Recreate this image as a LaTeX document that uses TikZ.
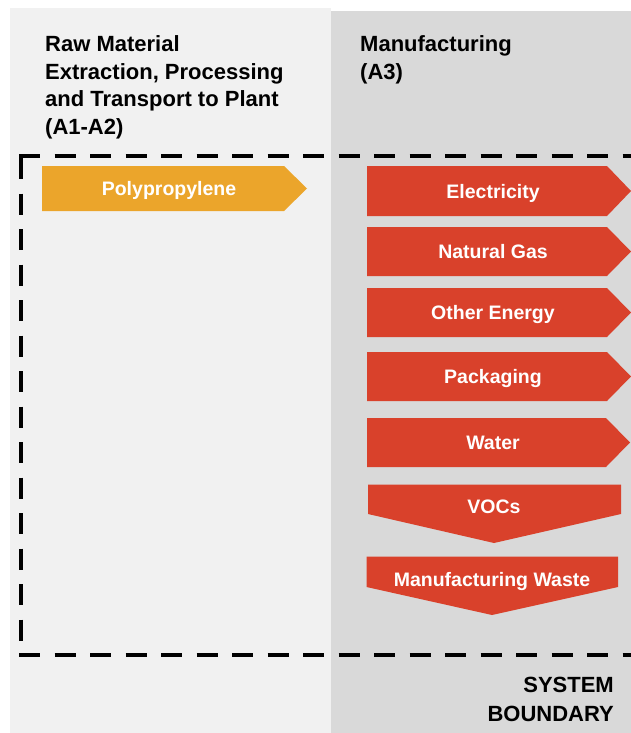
\documentclass[tikz,border=0pt]{standalone}
\usepackage{fontspec}
\setmainfont{Liberation Sans}
\usepackage{tikz}
\usetikzlibrary{arrows}

\definecolor{polyorange}{HTML}{EBA52B}
\definecolor{mfgred}{HTML}{D9412B}
\definecolor{rawbg}{HTML}{F1F1F1}
\definecolor{mfgbg}{HTML}{D9D9D9}

\begin{document}
\begin{tikzpicture}[x=1pt, y=-1pt,
    heading/.style={anchor=north west, inner sep=0, align=left,
      font=\bfseries\fontsize{22}{27.5}\selectfont},
    flowlabel/.style={inner sep=0, text=white, text height=14pt, text depth=0pt,
      font=\bfseries\fontsize{19.5}{22}\selectfont},
    boundary/.style={line width=4pt, dash pattern=on 21pt off 14.5pt}]
      \useasboundingbox (0,0) rectangle (631,733);
      \fill[white] (0,0) rectangle (631,733);
      \fill[rawbg] (10,8) rectangle (331,733);
      \fill[mfgbg] (331,11) rectangle (631,733);
      \node[heading] (rawhead) at (45,35.7) {Raw Material\\Extraction, Processing\\and Transport to Plant\\(A1-A2)};
      \node[heading] (mfghead) at (360,35.7) {Manufacturing\\(A3)};
      \coordinate (tl) at (21,156);
      \coordinate (bl) at (21,654.5);
      \draw[boundary] ([xshift=-2pt]tl) -- (640,156);
      \draw[boundary] ([yshift=-2pt]tl) -- (bl);
      \draw[boundary] ([xshift=-2pt]bl) -- (640,654.5);
      \fill[polyorange] (42,166) -- (284,166) -- (307,188.5) -- (284,211) -- (42,211) -- cycle;
      \node[flowlabel] (poly) at (169,188.5) {Polypropylene};
      \fill[mfgred] (367,166) -- (607,166) -- (631,191) -- (607,216) -- (367,216) -- cycle;
      \node[flowlabel] (elec) at (493,191) {Electricity};
      \fill[mfgred] (367,227) -- (607,227) -- (631,251.5) -- (607,276) -- (367,276) -- cycle;
      \node[flowlabel] (gas) at (493,251.5) {Natural Gas};
      \fill[mfgred] (367,288) -- (607,288) -- (631,312.5) -- (607,337) -- (367,337) -- cycle;
      \node[flowlabel] (energy) at (493,312.5) {Other Energy};
      \fill[mfgred] (367,352) -- (607,352) -- (631,376.5) -- (607,401) -- (367,401) -- cycle;
      \node[flowlabel] (pack) at (493,376.5) {Packaging};
      \fill[mfgred] (367,418) -- (606,418) -- (630,442.5) -- (606,467) -- (367,467) -- cycle;
      \node[flowlabel] (water) at (493,442.5) {Water};
      \fill[mfgred] (368,484.5) -- (621,484.5) -- (621,514) -- (494,543) -- (368,514) -- cycle;
      \node[flowlabel] (voc) at (494,506.5) {VOCs};
      \fill[mfgred] (366.5,556.5) -- (618,556.5) -- (618,587) -- (492,615) -- (366.5,587) -- cycle;
      \node[flowlabel] (waste) at (492,579.5) {Manufacturing Waste};
      \node[anchor=north east, inner sep=0, align=right,
        font=\bfseries\fontsize{22}{28.5}\selectfont] (sysb) at (614,677) {SYSTEM\\BOUNDARY};
    \end{tikzpicture}
\end{document}
